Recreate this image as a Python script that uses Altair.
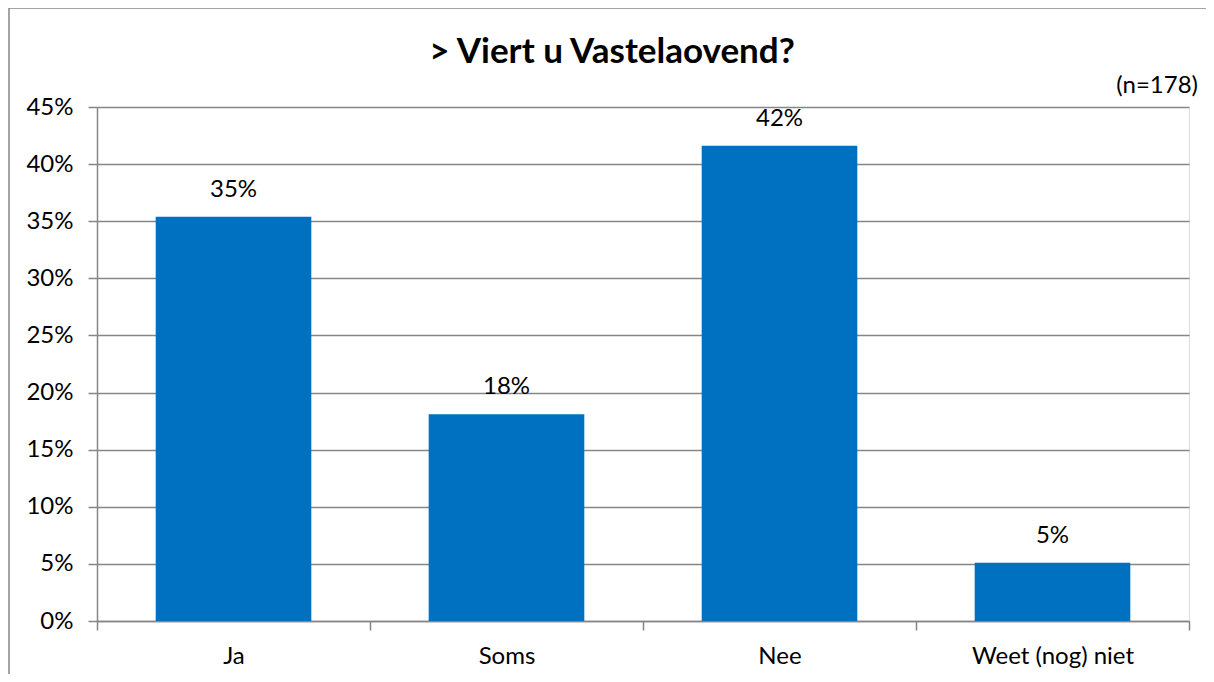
import altair as alt
import pandas as pd

categories = ["Ja", "Soms", "Nee", "Weet (nog) niet"]
values = [0.354, 0.181, 0.416, 0.051]
labels = ["35%", "18%", "42%", "5%"]
y_ticks = [0, 0.05, 0.10, 0.15, 0.20, 0.25, 0.30, 0.35, 0.40, 0.45]
title_text = "> Viert u Vastelaovend?"
note_text = "(n=178)"

df = pd.DataFrame({"cat": categories, "val": values, "lab": labels})

FONT = "Lato"
GRAY = "#868686"
W, H = 1092, 514
FS = 24

x = alt.X("cat:N", sort=categories, title=None,
          scale=alt.Scale(paddingInner=0, paddingOuter=0),
          axis=alt.Axis(labelAngle=0, labelFontSize=FS, labelFont=FONT, labelColor="#000000",
                        tickBand="extent", tickSize=9, tickColor=GRAY, domainColor=GRAY,
                        labelPadding=14, grid=False, tickWidth=1.5, domainWidth=1.5))
y = alt.Y("val:Q", title=None,
          scale=alt.Scale(domain=[0, 0.45], nice=False),
          axis=alt.Axis(values=y_ticks, format=".0%", labelFontSize=FS, labelFont=FONT,
                        labelColor="#000000", tickSize=9, tickColor=GRAY, domainColor=GRAY,
                        gridColor=GRAY, gridWidth=1.5, tickWidth=1.5, domainWidth=1.5,
                        labelPadding=15))

bars = alt.Chart(df).mark_bar(color="#0070C0", width=alt.RelativeBandSize(0.57)).encode(x=x, y=y)
text = alt.Chart(df).mark_text(font=FONT, fontSize=FS, color="#000000", dy=-20,
                               baseline="alphabetic").encode(
    x=alt.X("cat:N", sort=categories), y="val:Q", text="lab:N")

meta = pd.DataFrame({"title": [title_text], "note": [note_text]})
title = alt.Chart(meta).mark_text(font=FONT, fontSize=35, fontWeight="bold", color="#000000",
                                  align="center", baseline="alphabetic").encode(
    x=alt.value(515), y=alt.value(-44), text="title:N")
note = alt.Chart(meta).mark_text(font=FONT, fontSize=FS, color="#000000",
                                 align="right", baseline="alphabetic").encode(
    x=alt.value(1101), y=alt.value(-14), text="note:N")
frame_left = alt.Chart(meta).mark_rule(stroke=GRAY, strokeWidth=1.5).encode(
    x=alt.value(-88), y=alt.value(-99), y2=alt.value(H + 200))
frame_top = alt.Chart(meta).mark_rule(stroke=GRAY, strokeWidth=1.5).encode(
    x=alt.value(-88), x2=alt.value(W + 200), y=alt.value(-99))

chart = alt.layer(frame_left, frame_top, bars, text, title, note).properties(
    width=W, height=H,
    autosize=alt.AutoSizeParams(type="none"),
    padding={"left": 89, "top": 99, "right": 17, "bottom": 53},
).configure_view(stroke=None).configure(background="white")

chart.save("out.html", embed_options={"renderer": "svg", "actions": False})
